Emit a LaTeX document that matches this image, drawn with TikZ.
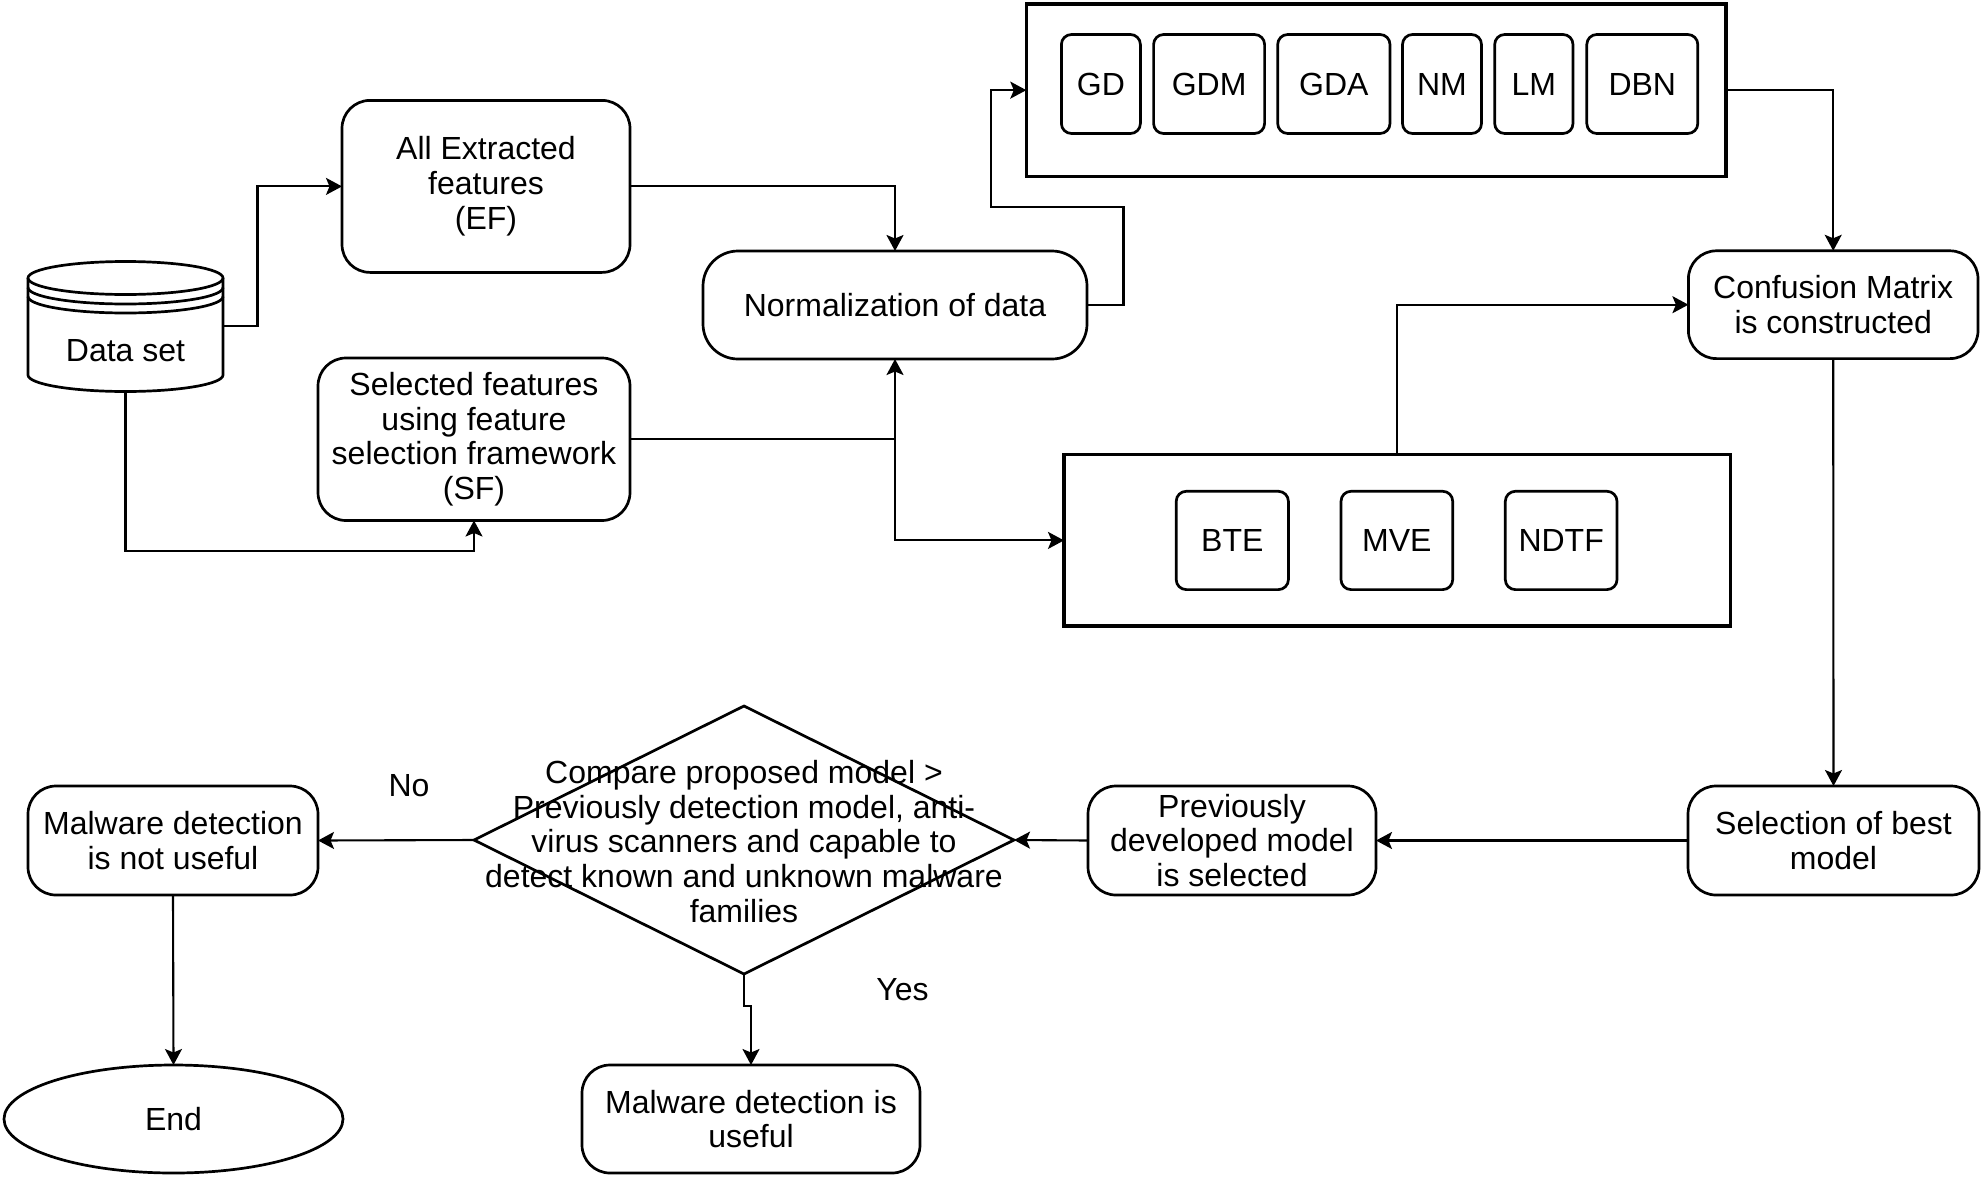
\documentclass[tikz,border=0pt]{standalone}
\usepackage{fontspec}
\setmainfont{Liberation Sans}
\usetikzlibrary{shapes.geometric,arrows.meta,calc}
\begin{document}
\begin{tikzpicture}[x=1pt,y=-1pt,
  every node/.style={font=\fontsize{32}{34.7}\selectfont, inner sep=0pt, outer sep=0pt},
  box/.style={draw, line width=2.7pt, rounded corners=28pt, align=center},
  cont/.style={draw, line width=3.3pt},
  small/.style={draw, line width=2.7pt, rounded corners=10pt, minimum height=99pt},
  arr/.style={line width=2.1pt, -{Stealth[length=16pt,width=17pt,inset=3.5pt]}}]
\fill[white] (0,0) rectangle (1983,1178);
\useasboundingbox (0,0) rectangle (1983,1178);

% Data set cylinder
\node[minimum width=195pt, minimum height=130pt] (ds) at (125.5,326) {};
\begin{scope}[line width=2.7pt]
\draw (125.5,278) ellipse [x radius=97.5pt, y radius=16.5pt];
\foreach \c in {287.5,296.5}
  \draw (28,\c) .. controls (28,\c+9.11) and (71.65,\c+16.5) .. (125.5,\c+16.5)
        .. controls (179.35,\c+16.5) and (223,\c+9.11) .. (223,\c);
\draw (28,278) -- (28,375) .. controls (28,384.11) and (71.65,391.5) .. (125.5,391.5)
      .. controls (179.35,391.5) and (223,384.11) .. (223,375) -- (223,278);
\end{scope}
\node (dstext) at (125.5,351) {Data set};

% upper left boxes
\node[box, minimum width=288pt, minimum height=172pt] (ef) at (486,186.4) {All Extracted\\features\\(EF)};
\node[box, minimum width=312pt, minimum height=162.5pt] (sf) at (474,439.25) {Selected features\\using feature\\selection framework\\(SF)};
\node[box, rounded corners=35pt, minimum width=384pt, minimum height=108pt] (norm) at (895,305) {Normalization of data};

% top container
\node[cont, minimum width=699.7pt, minimum height=172.1pt] (tc) at (1376.15,90.15) {};
\node[small, minimum width=79pt] (gd) at (1100.9,84) {GD};
\node[small, minimum width=111pt] (gdm) at (1209.1,84) {GDM};
\node[small, minimum width=112.3pt] (gda) at (1333.85,84) {GDA};
\node[small, minimum width=79pt] (nm) at (1442,84) {NM};
\node[small, minimum width=78.3pt] (lm) at (1533.85,84) {LM};
\node[small, minimum width=111pt] (dbn) at (1642.3,84) {DBN};

% confusion matrix
\node[box, minimum width=289.6pt, minimum height=107.8pt] (cm) at (1833.2,304.7) {Confusion Matrix\\is constructed};

% bottom container
\node[cont, minimum width=666.4pt, minimum height=171.2pt] (bc) at (1397.2,540.4) {};
\node[small, minimum width=112.2pt, minimum height=98.3pt] (bte) at (1232.3,540.45) {BTE};
\node[small, minimum width=111.7pt, minimum height=98.3pt] (mve) at (1396.85,540.45) {MVE};
\node[small, minimum width=111.7pt, minimum height=98.3pt] (ndtf) at (1561.15,540.45) {NDTF};

% lower row
\node[box, minimum width=291pt, minimum height=109pt] (sel) at (1833.5,840.5) {Selection of best\\model};
\node[box, minimum width=288pt, minimum height=109pt] (prev) at (1232,840.5) {Previously\\developed model\\is selected};
\node[diamond, draw, line width=2.7pt, minimum width=540pt, minimum height=268pt] (dia) at (744,840) {};
\node[align=center] (diatext) at (744,841.5) {Compare proposed model >\\Previously detection model, anti-\\virus scanners and capable to\\detect known and unknown malware\\families};
\node[box, minimum width=290pt, minimum height=109pt] (nu) at (173,840.5) {Malware detection\\is not useful};
\node[ellipse, draw, line width=2.7pt, minimum width=339pt, minimum height=108pt] (endn) at (173.5,1119) {End};
\node[box, minimum width=338pt, minimum height=108pt] (use) at (751,1119) {Malware detection is\\useful};
\node (no) at (409,785.5) {No};
\node (yes) at (902.5,989.7) {Yes};

% connectors
\draw[arr] (ds.east) -- ++(34.5,0) |- (ef.west);
\draw[arr] (ds.south) -- ++(0,160) -| (sf.south);
\draw[arr] (ef.east) -| (norm.north);
\draw[arr] (sf.east) -| (norm.south);
\draw[arr] (sf.east -| norm.south) |- (bc.west);
\coordinate (loopx) at (991.2,90.15);
\draw[arr] (norm.east) -- ++(36.5,0) -- ++(0,-97.7) -| (loopx) -- (tc.west);
\draw[arr] (tc.east) -| (cm.north);
\draw[arr] (bc.north) |- (cm.west);
\draw[arr] (cm.south) -- (sel.north);
\draw[arr] (sel.west) -- (prev.east);
\draw[arr] (prev.west) -- (dia.east);
\draw[arr] (dia.west) -- (nu.east);
\draw[arr] (nu.south) -- (endn.north);
\draw[arr] (dia.south) -- ++(0,32) -| (use.north);
\end{tikzpicture}
\end{document}
